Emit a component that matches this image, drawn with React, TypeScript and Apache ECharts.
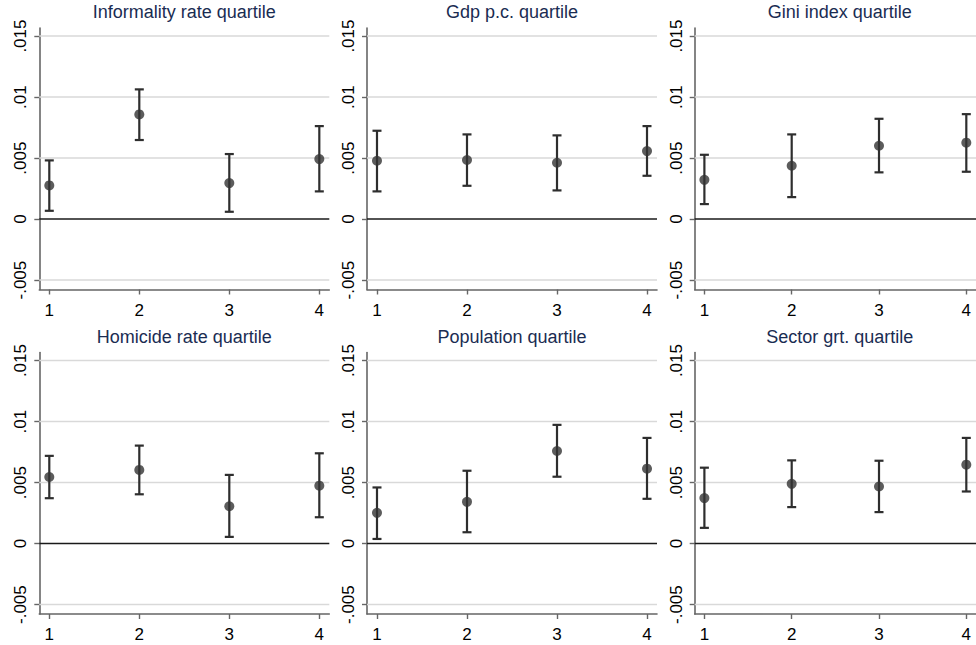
import { useEffect, useRef } from "react";
import * as echarts from "echarts";

const titles = [
  "Informality rate quartile",
  "Gdp p.c. quartile",
  "Gini index quartile",
  "Homicide rate quartile",
  "Population quartile",
  "Sector grt. quartile",
];

const quartiles = [1, 2, 3, 4];
const yTicks = [-0.005, 0, 0.005, 0.01, 0.015];
const gridLines = [-0.005, 0.005, 0.01, 0.015];

// point estimates and 95% bounds per panel
const est = [
  [0.00276, 0.00858, 0.00295, 0.00492],
  [0.00478, 0.00484, 0.00462, 0.00557],
  [0.00322, 0.00437, 0.00601, 0.00626],
  [0.00546, 0.00604, 0.00306, 0.00475],
  [0.00252, 0.00342, 0.00759, 0.00614],
  [0.00373, 0.0049, 0.00468, 0.00647],
];
const lower = [
  [0.00068, 0.00648, 0.0006, 0.00227],
  [0.00227, 0.00273, 0.00235, 0.00355],
  [0.00123, 0.0018, 0.00383, 0.00388],
  [0.00372, 0.00404, 0.00055, 0.00216],
  [0.00038, 0.00093, 0.00548, 0.00367],
  [0.00129, 0.00299, 0.00258, 0.00427],
];
const upper = [
  [0.00481, 0.01063, 0.00533, 0.00762],
  [0.00724, 0.00694, 0.00686, 0.00762],
  [0.00527, 0.00694, 0.00822, 0.0086],
  [0.00719, 0.00803, 0.00563, 0.0074],
  [0.0046, 0.00597, 0.00973, 0.00866],
  [0.00622, 0.00682, 0.00679, 0.00866],
];

const FONT = "'Liberation Sans', Arial, sans-serif";
const lefts = [39.3, 367, 694.7];
const tops = [28, 352.5];
const W = 290;
const H = 261.5;
const X_MIN = 0.889;
const X_MAX = 4.111;
const INK = "#2e2e2e";

const fmt = (v: number) => {
  if (v === 0) return "0";
  const s = String(Math.abs(v)).replace(/^0/, "");
  return v < 0 ? "-" + s : s;
};

export default function App() {
  const ref = useRef<HTMLDivElement | null>(null);

  useEffect(() => {
    document.body.style.margin = "0";
    if (!ref.current) return;
    const chart = echarts.init(ref.current, undefined, { renderer: "svg" });

    const grid: any[] = [];
    const xAxis: any[] = [];
    const yAxis: any[] = [];
    const title: any[] = [];
    const series: any[] = [];

    titles.forEach((t, i) => {
      const col = i % 3;
      const row = Math.floor(i / 3);
      grid.push({ left: lefts[col], top: tops[row], width: W, height: H });
      title.push({
        text: t,
        left: lefts[col] + W / 2,
        top: tops[row] - 25,
        textAlign: "center",
        padding: 0,
        textStyle: { fontFamily: FONT, fontSize: 18, fontWeight: "normal", color: "#1a2c52" },
      });
      xAxis.push({
        type: "value",
        gridIndex: i,
        min: X_MIN,
        max: X_MAX,
        splitLine: { show: false },
        axisLine: { show: true, onZero: false, lineStyle: { color: "#666", width: 1.6 } },
        axisTick: { show: true, customValues: quartiles, length: 5, lineStyle: { color: "#666", width: 1.4 } },
        axisLabel: {
          customValues: quartiles,
          margin: 12,
          color: "#000",
          fontFamily: FONT,
          fontSize: 17,
        },
      });
      yAxis.push({
        type: "value",
        gridIndex: i,
        min: -0.00577,
        max: 0.01566,
        splitLine: { show: false },
        axisLine: { show: true, onZero: false, lineStyle: { color: "#666", width: 1.6 } },
        axisTick: { show: true, customValues: yTicks, length: 5, lineStyle: { color: "#666", width: 1.4 } },
        axisLabel: {
          customValues: yTicks,
          rotate: 90,
          margin: 10,
          color: "#000",
          fontFamily: FONT,
          fontSize: 17,
          formatter: (v: number) => fmt(v),
        },
      });
      gridLines.forEach((v) => {
        series.push({
          type: "line",
          xAxisIndex: i,
          yAxisIndex: i,
          silent: true,
          symbol: "none",
          z: 1,
          lineStyle: { color: "#d9d9d9", width: 1.5 },
          data: [
            [X_MIN, v],
            [X_MAX, v],
          ],
        });
      });
      series.push({
        type: "line",
        xAxisIndex: i,
        yAxisIndex: i,
        silent: true,
        symbol: "none",
        z: 2,
        lineStyle: { color: "#1a1a1a", width: 1.5 },
        data: [
          [X_MIN, 0],
          [X_MAX, 0],
        ],
      });
      series.push({
        type: "custom",
        xAxisIndex: i,
        yAxisIndex: i,
        z: 3,
        data: quartiles.map((q, k) => [q, lower[i][k], upper[i][k]]),
        encode: { x: 0, y: [1, 2] },
        renderItem: (_p: any, api: any) => {
          const x = api.value(0);
          const a = api.coord([x, api.value(2)]);
          const b = api.coord([x, api.value(1)]);
          const w = 4.5;
          const style = { stroke: INK, lineWidth: 2.2 };
          return {
            type: "group",
            children: [
              { type: "line", shape: { x1: a[0], y1: a[1], x2: b[0], y2: b[1] }, style },
              { type: "line", shape: { x1: a[0] - w, y1: a[1], x2: a[0] + w, y2: a[1] }, style },
              { type: "line", shape: { x1: b[0] - w, y1: b[1], x2: b[0] + w, y2: b[1] }, style },
            ],
          };
        },
      });
      series.push({
        type: "scatter",
        xAxisIndex: i,
        yAxisIndex: i,
        z: 4,
        symbol: "circle",
        symbolSize: 10,
        itemStyle: { color: "#333" },
        data: quartiles.map((q, k) => [q, est[i][k]]),
      });
    });

    chart.setOption({
      animation: false,
      backgroundColor: "#fff",
      title,
      grid,
      xAxis,
      yAxis,
      series,
    });

    return () => chart.dispose();
  }, []);

  return <div ref={ref} style={{ width: 976, height: 645 }} />;
}
